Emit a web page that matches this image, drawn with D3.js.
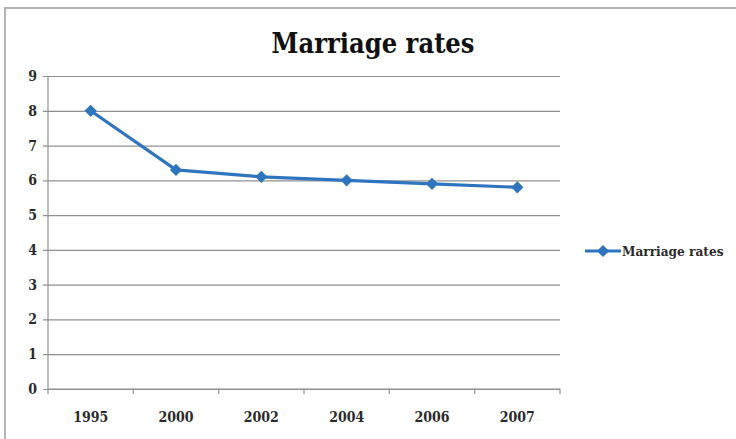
<!DOCTYPE html>
<html>
<head>
<meta charset="utf-8">
<script src="https://cdn.jsdelivr.net/npm/d3@7"></script>
<style>
  html, body { margin: 0; padding: 0; background: #fff; }
  svg { display: block; }
  text { font-family: "DejaVu Serif Condensed", "DejaVu Serif", serif; font-stretch: condensed; }
</style>
</head>
<body>
<svg id="chart" width="736" height="439"></svg>
<script>
const years = ["1995", "2000", "2002", "2004", "2006", "2007"];
const rates = [8.0, 6.3, 6.1, 6.0, 5.9, 5.8];
const yTicks = [0, 1, 2, 3, 4, 5, 6, 7, 8, 9];
const seriesName = "Marriage rates";
const chartTitle = "Marriage rates";

const svg = d3.select("#chart");
const W = 736, H = 439;
const plot = { left: 48, right: 560, top: 76, bottom: 389 };
const blue = "#2e75c0";

// chart frame
svg.append("path")
  .attr("d", `M5,${H} L5,8 L${W},8`)
  .attr("fill", "none")
  .attr("stroke", "#b4b4b4")
  .attr("stroke-width", 2);

const x = d3.scaleBand().domain(years).range([plot.left, plot.right]);
const y = d3.scaleLinear().domain([0, 9]).range([plot.bottom, plot.top]);

// horizontal gridlines with small ticks on the left
const yAxis = d3.axisLeft(y).tickValues(yTicks)
  .tickSize(plot.right - plot.left + 5)
  .tickFormat(d3.format("d"));
const gy = svg.append("g")
  .attr("transform", `translate(${plot.right},0)`)
  .call(yAxis);
gy.select(".domain").remove();
gy.selectAll(".tick line").attr("stroke", "#909090").attr("stroke-width", 1.2);
gy.selectAll(".tick text")
  .attr("x", -(plot.right - plot.left) - 11)
  .attr("fill", "#2a2a2a")
  .style("font-size", "14px")
  .style("font-weight", "bold");

// vertical axis line
svg.append("line")
  .attr("x1", plot.left).attr("x2", plot.left)
  .attr("y1", plot.top).attr("y2", plot.bottom)
  .attr("stroke", "#909090").attr("stroke-width", 1.2);

// category axis with ticks on band boundaries
const gx = svg.append("g").attr("transform", `translate(0,${plot.bottom})`);
gx.append("line")
  .attr("x1", plot.left).attr("x2", plot.right)
  .attr("stroke", "#909090").attr("stroke-width", 1.2);
const bounds = years.map(d => x(d)).concat([x(years[years.length - 1]) + x.bandwidth()]);
gx.selectAll("line.tk").data(bounds).join("line")
  .attr("class", "tk")
  .attr("x1", d => d).attr("x2", d => d)
  .attr("y1", 0).attr("y2", 5)
  .attr("stroke", "#909090").attr("stroke-width", 1.2);
gx.selectAll("text").data(years).join("text")
  .attr("x", d => x(d) + x.bandwidth() / 2)
  .attr("y", 33)
  .attr("text-anchor", "middle")
  .attr("fill", "#2a2a2a")
  .style("font-size", "14px")
  .style("font-weight", "bold")
  .text(d => d);

// series line
const cx = d => x(d) + x.bandwidth() / 2;
const line = d3.line().x((d, i) => cx(years[i])).y(d => y(d));
svg.append("path")
  .datum(rates)
  .attr("d", line)
  .attr("fill", "none")
  .attr("stroke", blue)
  .attr("stroke-width", 3.2)
  .attr("stroke-linejoin", "round");

// diamond markers
const diamond = d3.symbol().type(d3.symbolDiamond2).size(95);
svg.selectAll("path.pt").data(rates).join("path")
  .attr("class", "pt")
  .attr("d", diamond)
  .attr("transform", (d, i) => `translate(${cx(years[i])},${y(d)})`)
  .attr("fill", blue);

// title
svg.append("text")
  .attr("x", 373).attr("y", 53)
  .attr("text-anchor", "middle")
  .attr("fill", "#111")
  .style("font-size", "27px")
  .style("font-weight", "bold")
  .text(chartTitle);

// legend
const lg = svg.append("g").attr("transform", "translate(585,251)");
lg.append("line").attr("x1", 0).attr("x2", 36).attr("stroke", blue).attr("stroke-width", 3.2);
lg.append("path").attr("d", diamond).attr("transform", "translate(18,0)").attr("fill", blue);
lg.append("text")
  .attr("x", 37).attr("y", 5)
  .attr("fill", "#2a2a2a")
  .style("font-size", "13.5px")
  .style("font-weight", "bold")
  .text(seriesName);
</script>
</body>
</html>
